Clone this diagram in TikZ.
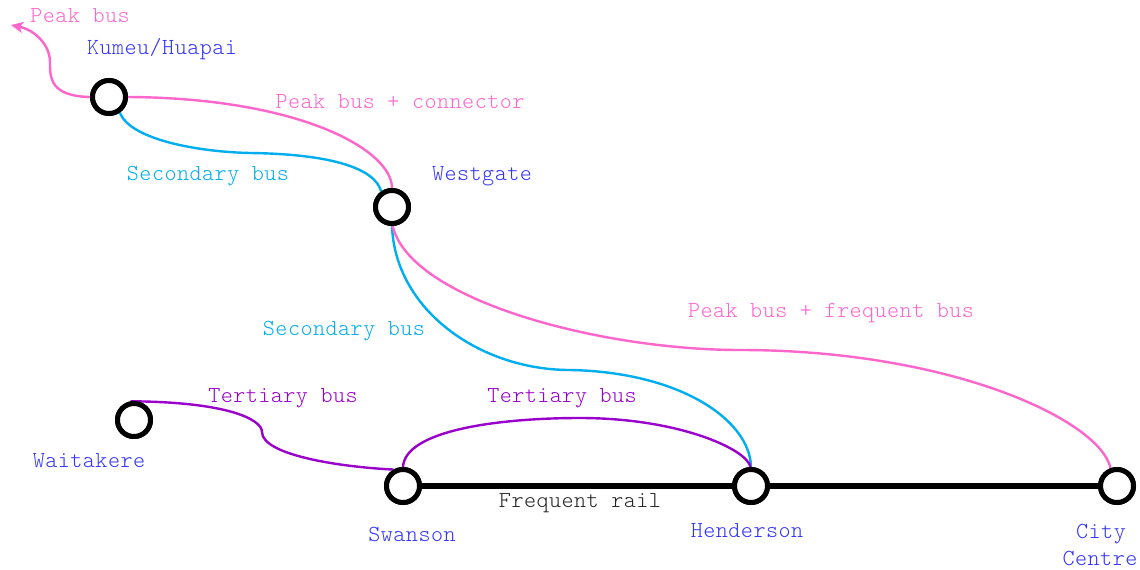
\documentclass[tikz,border=0pt]{standalone}
\usepackage{fontspec}
\setmonofont{Latin Modern Mono Light}[LetterSpace=2]
\usetikzlibrary{arrows.meta}
\definecolor{pk}{HTML}{FF66CC}
\definecolor{cy}{HTML}{00AEEF}
\definecolor{pu}{HTML}{9900CC}
\definecolor{bl}{HTML}{3333FF}
\begin{document}
\begin{tikzpicture}[x=1pt,y=-1pt,
  station/.style={circle,draw=black,fill=white,line width=5pt,minimum size=33pt,inner sep=0pt},
  lbl/.style={font=\ttfamily\fontsize{23}{27}\selectfont,inner sep=0pt,align=center},
  stn/.style={lbl,text=bl},
  peak/.style={draw=pk,line width=2.4pt},
  sec/.style={draw=cy,line width=2.4pt},
  ter/.style={draw=pu,line width=2.4pt},
  rail/.style={draw=black,line width=5.5pt}]
\useasboundingbox (0,0) rectangle (1140,570);
% stations
\node[station] (ku) at (109,97) {};
\node[station] (we) at (392,207) {};
\node[station] (wa) at (134,420) {};
\node[station] (sw) at (403,486) {};
\node[station] (he) at (751,486) {};
\node[station] (cc) at (1117,486) {};
\coordinate (pkend) at (11,25);
% connectors
\path[peak,-{Stealth[length=12pt,width=11pt,inset=3pt]}] (ku.180) .. controls (50,96) and (50,78) .. (50,62) .. controls (50,45) and (35,30) .. (pkend);
\path[peak] (ku.0) .. controls (300,98) and (392,150) .. (we.90);
\path[sec] (ku.-55) .. controls (130,140) and (200,152) .. (250,153) .. controls (330,154) and (375,168) .. (we.125);
\path[sec] (we.-90) .. controls (395,310) and (480,370) .. (570,370) .. controls (680,372) and (750,420) .. (he.90);
\path[peak] (we.-88) .. controls (410,300) and (600,350) .. (740,350) .. controls (950,350) and (1100,420) .. (cc.110);
\path[ter] (wa.100) .. controls (230,402) and (262,420) .. (262,432) .. controls (262,455) and (340,467) .. (sw.120);
\path[ter] (sw.90) .. controls (405,430) and (500,418) .. (580,418) .. controls (680,418) and (748,450) .. (he.92);
\path[rail] (sw) -- (he) -- (cc);
% redraw stations on top
\node[station] at (109,97) {};
\node[station] at (392,207) {};
\node[station] at (134,420) {};
\node[station] at (403,486) {};
\node[station] at (751,486) {};
\node[station] at (1117,486) {};
% station labels
\node[stn] (lku) at (162,49) {Kumeu/Huapai};
\node[stn] (lwe) at (482,176) {Westgate};
\node[stn] (lwa) at (89,461) {Waitakere};
\node[stn] (lsw) at (412,534) {Swanson};
\node[stn] (lhe) at (747,531) {Henderson};
\node[stn] (lcc1) at (1101,534) {City};
\node[stn] (lcc2) at (1100,558) {Centre};
% line labels
\node[lbl,text=pk] (l1) at (80,16) {Peak bus};
\node[lbl,text=pk] (l2) at (400,102) {Peak bus + connector};
\node[lbl,text=cy] (l3) at (208,176) {Secondary bus};
\node[lbl,text=cy] (l4) at (344,331) {Secondary bus};
\node[lbl,text=pk] (l5) at (831,313) {Peak bus + frequent bus};
\node[lbl,text=pu] (l6) at (283,398) {Tertiary bus};
\node[lbl,text=pu] (l7) at (562,398) {Tertiary bus};
\node[lbl,text=black!85] (l8) at (580,503) {Frequent rail};
\end{tikzpicture}
\end{document}
